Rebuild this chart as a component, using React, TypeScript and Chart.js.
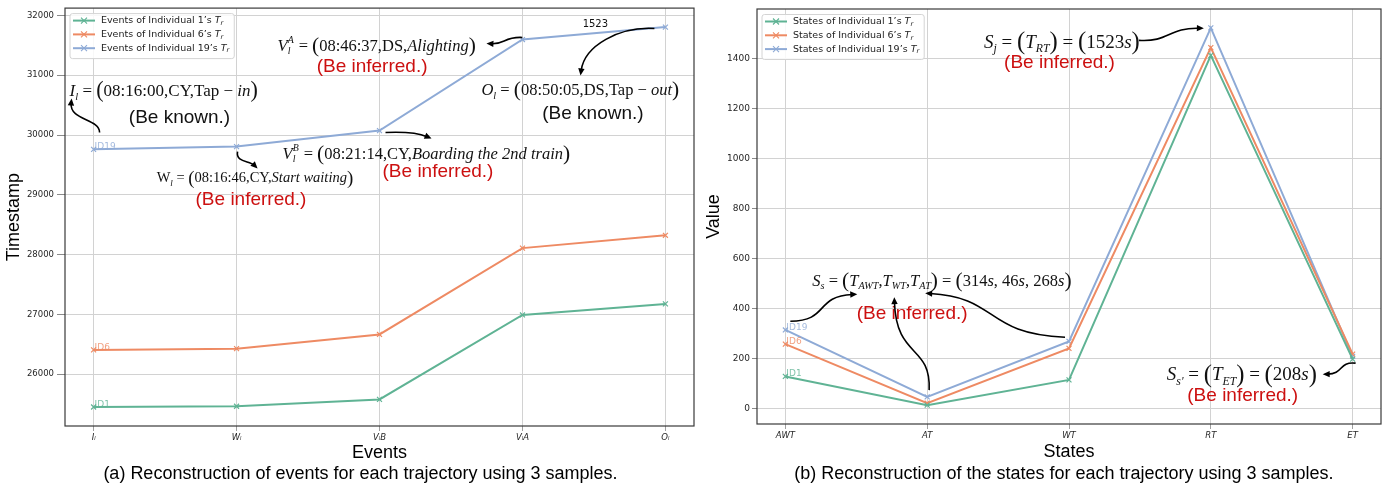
import React, { useEffect, useRef } from 'react';
import { Chart, registerables } from 'chart.js';
Chart.register(...registerables);

// ---------- data ----------
const eventLabels = ['Iₗ', 'Wₗ', 'VₗB', 'VₗA', 'Oₗ'];
const stateLabels = ['AWT', 'AT', 'WT', 'RT', 'ET'];
const seriesNames = ['1', '6', '19'];
const idLabels = ['ID1', 'ID6', 'ID19'];

const events1 = [25450, 25463, 25577, 26990, 27175];
const events6 = [26405, 26426, 26664, 28108, 28322];
const events19 = [29760, 29806, 30074, 31597, 31805];

const states1 = [128, 13, 114, 1413, 197];
const states6 = [257, 21, 240, 1444, 217];
const states19 = [314, 46, 268, 1523, 208];

const eventTicks = [26000, 27000, 28000, 29000, 30000, 31000, 32000];
const stateTicks = [0, 200, 400, 600, 800, 1000, 1200, 1400];

const colors = ['#5fb394', '#ee8a63', '#8eaad6'];

const SERIF = '"Liberation Serif", "Times New Roman", serif';
const SANS = '"Liberation Sans", Arial, sans-serif';
const DEJAVU = '"DejaVu Sans", sans-serif';
const RED = '#cc1010';

// ---------- annotation content (positions in data units) ----------
type Seg = { t?: string; it?: boolean; s?: number; dy?: number; sup?: string; sub?: string };
type Ann =
  | { kind: 'rich'; x: number; y: number; size: number; segs: Seg[] }
  | { kind: 'text'; x: number; y: number; size: number; text: string; color: string; font: string; align: CanvasTextAlign }
  | { kind: 'arrow'; pts: number[] };

const n = (t: string): Seg => ({ t });
const it = (t: string): Seg => ({ t, it: true });
const sb = (t: string): Seg => ({ t, it: true, s: 0.62, dy: 0.22 });
const lp: Seg = { t: '(', s: 1.3, dy: 0.08 };
const rp: Seg = { t: ')', s: 1.3, dy: 0.08 };

const eventAnns: Ann[] = [
  { kind: 'rich', x: -0.168, y: 30745, size: 17, segs: [it('I'), sb('l'), n(' = '), lp, n('08:16:00,CY,Tap − '), it('in'), rp] },
  { kind: 'text', x: 0.601, y: 30292, size: 19, text: '(Be known.)', color: '#111', font: SANS, align: 'center' },
  { kind: 'arrow', pts: [0.042, 30041, 0.042, 30276, -0.168, 30242, -0.154, 30611] },

  { kind: 'rich', x: 0.441, y: 29288, size: 14.5, segs: [n('W'), sb('l'), n(' = '), lp, n('08:16:46,CY,'), it('Start waiting'), rp] },
  { kind: 'text', x: 1.101, y: 28920, size: 19, text: '(Be inferred.)', color: RED, font: SANS, align: 'center' },
  { kind: 'arrow', pts: [1.007, 29723, 0.993, 29539, 1.091, 29573, 1.147, 29439] },

  { kind: 'rich', x: 1.322, y: 29690, size: 16.5, segs: [it('V'), { sup: 'B', sub: 'l' }, n(' = '), lp, n('08:21:14,CY,'), it('Boarding the 2nd train'), rp] },
  { kind: 'text', x: 2.409, y: 29389, size: 19, text: '(Be inferred.)', color: RED, font: SANS, align: 'center' },
  { kind: 'arrow', pts: [2.042, 30041, 2.21, 30058, 2.28, 30025, 2.364, 29941] },

  { kind: 'rich', x: 1.287, y: 31498, size: 16.5, segs: [it('V'), { sup: 'A', sub: 'l' }, n(' = '), lp, n('08:46:37,DS,'), it('Alighting'), rp] },
  { kind: 'text', x: 1.948, y: 31146, size: 19, text: '(Be inferred.)', color: RED, font: SANS, align: 'center' },
  { kind: 'arrow', pts: [2.999, 31632, 2.874, 31648, 2.874, 31515, 2.748, 31531] },

  { kind: 'text', x: 3.51, y: 31849, size: 10, text: '1523', color: '#111', font: DEJAVU, align: 'center' },

  { kind: 'rich', x: 2.713, y: 30761, size: 16.5, segs: [it('O'), sb('l'), n(' = '), lp, n('08:50:05,DS,Tap − '), it('out'), rp] },
  { kind: 'text', x: 3.493, y: 30359, size: 19, text: '(Be known.)', color: '#111', font: SANS, align: 'center' },
  { kind: 'arrow', pts: [3.923, 31782, 3.678, 31816, 3.434, 31498, 3.406, 30996] },
];

const stateAnns: Ann[] = [
  { kind: 'rich', x: 1.401, y: 1469, size: 19, segs: [it('S'), sb('j'), n(' = '), lp, it('T'), sb('RT'), rp, n(' = '), lp, n('1523'), it('s'), rp] },
  { kind: 'text', x: 1.933, y: 1385, size: 19, text: '(Be inferred.)', color: RED, font: SANS, align: 'center' },
  { kind: 'arrow', pts: [2.493, 1473, 2.704, 1465, 2.704, 1525, 2.951, 1521] },

  { kind: 'rich', x: 0.19, y: 513, size: 16.5, segs: [it('S'), sb('s'), n(' = '), lp, it('T'), sb('AWT'), n(','), it('T'), sb('WT'), n(','), it('T'), sb('AT'), rp, n(' = '), lp, n('314'), it('s'), n(', 46'), it('s'), n(', 268'), it('s'), rp] },
  { kind: 'text', x: 0.894, y: 377, size: 19, text: '(Be inferred.)', color: RED, font: SANS, align: 'center' },
  { kind: 'arrow', pts: [0.035, 349, 0.31, 349, 0.204, 449, 0.507, 457] },
  { kind: 'arrow', pts: [1.014, 73, 1.028, 257, 0.782, 197, 0.768, 445] },
  { kind: 'arrow', pts: [1.972, 285, 1.401, 297, 1.507, 445, 0.986, 461] },

  { kind: 'rich', x: 2.69, y: 137, size: 19, segs: [it('S'), sb("s'"), n(' = '), lp, it('T'), sb('ET'), rp, n(' = '), lp, n('208'), it('s'), rp] },
  { kind: 'text', x: 3.225, y: 49, size: 19, text: '(Be inferred.)', color: RED, font: SANS, align: 'center' },
  { kind: 'arrow', pts: [4.021, 181, 3.901, 189, 3.937, 137, 3.789, 137] },
];

// ---------- drawing helpers ----------
function drawRich(ctx: CanvasRenderingContext2D, segs: Seg[], x: number, yc: number, size: number) {
  const base = yc + size * 0.33;
  let cx = x;
  ctx.textBaseline = 'alphabetic';
  ctx.textAlign = 'left';
  ctx.fillStyle = '#111';
  for (const g of segs) {
    if (g.sup !== undefined || g.sub !== undefined) {
      const ss = size * 0.6;
      ctx.font = `italic ${ss}px ${SERIF}`;
      let w = 0;
      if (g.sup) { ctx.fillText(g.sup, cx, base - size * 0.48); w = Math.max(w, ctx.measureText(g.sup).width); }
      if (g.sub) { ctx.fillText(g.sub, cx, base + size * 0.2); w = Math.max(w, ctx.measureText(g.sub).width); }
      cx += w + size * 0.05;
      continue;
    }
    const fs = size * (g.s ?? 1);
    ctx.font = `${g.it ? 'italic ' : ''}${fs}px ${SERIF}`;
    ctx.fillText(g.t as string, cx, base + (g.dy ?? 0) * size);
    cx += ctx.measureText(g.t as string).width;
  }
}

function drawArrow(ctx: CanvasRenderingContext2D, p: number[]) {
  const [x0, y0, x1, y1, x2, y2, x3, y3] = p;
  const ang = Math.atan2(y3 - y2, x3 - x2);
  const L = 7, W = 3.2;
  const c = Math.cos(ang), s = Math.sin(ang);
  ctx.strokeStyle = '#000';
  ctx.lineWidth = 1.6;
  ctx.beginPath();
  ctx.moveTo(x0, y0);
  ctx.bezierCurveTo(x1, y1, x2, y2, x3 - c * L * 0.7, y3 - s * L * 0.7);
  ctx.stroke();
  ctx.fillStyle = '#000';
  ctx.beginPath();
  ctx.moveTo(x3, y3);
  ctx.lineTo(x3 - c * L + s * W, y3 - s * L - c * W);
  ctx.lineTo(x3 - c * L - s * W, y3 - s * L + c * W);
  ctx.closePath();
  ctx.fill();
}

function drawCross(ctx: CanvasRenderingContext2D, x: number, y: number, r: number, color: string) {
  ctx.strokeStyle = color;
  ctx.lineWidth = 1.1;
  ctx.beginPath();
  ctx.moveTo(x - r, y - r); ctx.lineTo(x + r, y + r);
  ctx.moveTo(x - r, y + r); ctx.lineTo(x + r, y - r);
  ctx.stroke();
}

function drawLegend(ctx: CanvasRenderingContext2D, area: any, prefix: string) {
  const x0 = area.left + 5, y0 = area.top + 5.5;
  const fs = 9.5;
  ctx.font = `${fs}px ${DEJAVU}`;
  const texts = seriesNames.map((s) => `${prefix} of Individual ${s}’s `);
  const widths = texts.map((t) => ctx.measureText(t).width);
  ctx.font = `italic ${fs}px ${DEJAVU}`;
  const tw = ctx.measureText('T').width;
  ctx.font = `italic ${fs * 0.7}px ${DEJAVU}`;
  const rw = ctx.measureText('r').width;
  const w = 31 + Math.max(...widths) + tw + rw + 5;
  const h = 45;
  ctx.save();
  ctx.fillStyle = 'rgba(255,255,255,0.85)';
  ctx.strokeStyle = '#d4d4d4';
  ctx.lineWidth = 1;
  ctx.beginPath();
  const r = 2.5;
  ctx.moveTo(x0 + r, y0);
  ctx.lineTo(x0 + w - r, y0); ctx.quadraticCurveTo(x0 + w, y0, x0 + w, y0 + r);
  ctx.lineTo(x0 + w, y0 + h - r); ctx.quadraticCurveTo(x0 + w, y0 + h, x0 + w - r, y0 + h);
  ctx.lineTo(x0 + r, y0 + h); ctx.quadraticCurveTo(x0, y0 + h, x0, y0 + h - r);
  ctx.lineTo(x0, y0 + r); ctx.quadraticCurveTo(x0, y0, x0 + r, y0);
  ctx.closePath();
  ctx.fill();
  ctx.stroke();
  texts.forEach((t, i) => {
    const yy = y0 + 7 + i * 13.8;
    ctx.strokeStyle = colors[i];
    ctx.lineWidth = 2;
    ctx.beginPath();
    ctx.moveTo(x0 + 3, yy); ctx.lineTo(x0 + 25, yy);
    ctx.stroke();
    drawCross(ctx, x0 + 14, yy, 3, colors[i]);
    ctx.fillStyle = '#222';
    ctx.textBaseline = 'middle';
    ctx.textAlign = 'left';
    ctx.font = `${fs}px ${DEJAVU}`;
    let cx = x0 + 31;
    ctx.fillText(t, cx, yy);
    cx += widths[i];
    ctx.font = `italic ${fs}px ${DEJAVU}`;
    ctx.fillText('T', cx, yy);
    cx += tw;
    ctx.font = `italic ${fs * 0.7}px ${DEJAVU}`;
    ctx.fillText('r', cx, yy + 2.5);
  });
  ctx.restore();
}

function overlayPlugin(anns: Ann[], prefix: string) {
  return {
    id: 'overlay',
    afterDatasetsDraw(chart: any) {
      const ctx: CanvasRenderingContext2D = chart.ctx;
      const xs = chart.scales.x, ys = chart.scales.y;
      ctx.save();
      // ID labels at the first point of each series
      chart.data.datasets.forEach((_: any, i: number) => {
        const el = chart.getDatasetMeta(i).data[0];
        ctx.globalAlpha = 0.8;
        ctx.fillStyle = colors[i];
        ctx.font = `9px ${DEJAVU}`;
        ctx.textAlign = 'left';
        ctx.textBaseline = 'alphabetic';
        ctx.fillText(idLabels[i], el.x + 1, el.y);
        ctx.globalAlpha = 1;
      });
      for (const a of anns) {
        if (a.kind === 'rich') {
          drawRich(ctx, a.segs, xs.getPixelForValue(a.x), ys.getPixelForValue(a.y), a.size);
        } else if (a.kind === 'text') {
          ctx.font = `${a.size}px ${a.font}`;
          ctx.fillStyle = a.color;
          ctx.textAlign = a.align;
          ctx.textBaseline = 'middle';
          ctx.fillText(a.text, xs.getPixelForValue(a.x), ys.getPixelForValue(a.y));
        } else {
          const p: number[] = [];
          for (let k = 0; k < 8; k += 2) {
            p.push(xs.getPixelForValue(a.pts[k]), ys.getPixelForValue(a.pts[k + 1]));
          }
          drawArrow(ctx, p);
        }
      }
      ctx.restore();
    },
    afterDraw(chart: any) {
      const ctx: CanvasRenderingContext2D = chart.ctx;
      const a = chart.chartArea;
      ctx.save();
      ctx.strokeStyle = '#3a3a3a';
      ctx.lineWidth = 1.2;
      ctx.strokeRect(a.left, a.top, a.right - a.left, a.bottom - a.top);
      drawLegend(ctx, a, prefix);
      ctx.restore();
    },
  };
}

function yRange(series: number[][]) {
  const all = series.flat();
  const mn = Math.min(...all), mx = Math.max(...all);
  const p = (mx - mn) * 0.05;
  return [mn - p, mx + p];
}

function makeConfig(o: {
  labels: string[]; series: number[][]; ticks: number[]; prefix: string; anns: Ann[];
  xTitle: string; yTitle: string; padding: any; yWidth: number; yTickLen: number; yTickPad: number;
  yTickSize: number; yTitlePad: number; xTitlePad: number; xTickSize: number;
}) {
  const [ymin, ymax] = yRange(o.series);
  return {
    type: 'line',
    data: {
      datasets: o.series.map((s, i) => ({
        label: `${o.prefix} of Individual ${seriesNames[i]}'s Tr`,
        data: s.map((v, k) => ({ x: k, y: v })),
        borderColor: colors[i],
        backgroundColor: colors[i],
        borderWidth: 2,
        pointStyle: 'crossRot',
        pointRadius: 3.5,
        pointBorderWidth: 1.2,
        pointBorderColor: colors[i],
        tension: 0,
        fill: false,
      })),
    },
    options: {
      animation: false,
      responsive: false,
      devicePixelRatio: 1,
      layout: { padding: o.padding },
      plugins: { legend: { display: false }, tooltip: { enabled: false } },
      scales: {
        x: {
          type: 'linear',
          min: -0.2,
          max: o.labels.length - 1 + 0.2,
          afterBuildTicks: (s: any) => { s.ticks = o.labels.map((_, i) => ({ value: i })); },
          afterFit: (s: any) => { s.height = 39; },
          ticks: {
            callback: (_v: any, i: number) => o.labels[i],
            font: { family: DEJAVU, size: o.xTickSize, style: 'italic' },
            color: '#262626',
            padding: 2,
            maxRotation: 0,
            autoSkip: false,
          },
          grid: { color: '#d2d2d2', lineWidth: 1, tickLength: 5, tickColor: '#a0a0a0' },
          border: { display: false },
          title: { display: true, text: o.xTitle, color: '#000', font: { family: SANS, size: 18 }, padding: { top: 0, bottom: o.xTitlePad } },
        },
        y: {
          type: 'linear',
          min: ymin,
          max: ymax,
          afterBuildTicks: (s: any) => { s.ticks = o.ticks.map((v) => ({ value: v })); },
          afterFit: (s: any) => { s.width = o.yWidth; },
          ticks: {
            callback: (v: any) => String(v),
            font: { family: DEJAVU, size: o.yTickSize },
            color: '#262626',
            padding: o.yTickPad,
          },
          grid: { color: '#d2d2d2', lineWidth: 1, tickLength: o.yTickLen, tickColor: '#8a8a8a' },
          border: { display: false },
          title: { display: true, text: o.yTitle, color: '#000', font: { family: SANS, size: 18 }, padding: { top: o.yTitlePad, bottom: 0 } },
        },
      },
    },
    plugins: [overlayPlugin(o.anns, o.prefix)],
  } as any;
}

export default function App() {
  const leftRef = useRef<HTMLCanvasElement>(null);
  const rightRef = useRef<HTMLCanvasElement>(null);

  useEffect(() => {
    document.body.style.margin = '0';
    const c1 = new Chart(leftRef.current as HTMLCanvasElement, makeConfig({
      labels: eventLabels, series: [events1, events6, events19], ticks: eventTicks, prefix: 'Events',
      anns: eventAnns, xTitle: 'Events', yTitle: 'Timestamp',
      padding: { left: 0, right: 6, top: 8, bottom: 24 }, yWidth: 65, yTickLen: 8, yTickPad: 3,
      yTickSize: 8.5, yTitlePad: 3, xTitlePad: 1, xTickSize: 8.5,
    }));
    const c2 = new Chart(rightRef.current as HTMLCanvasElement, makeConfig({
      labels: stateLabels, series: [states1, states6, states19], ticks: stateTicks, prefix: 'States',
      anns: stateAnns, xTitle: 'States', yTitle: 'Value',
      padding: { left: 0, right: 8, top: 9, bottom: 26 }, yWidth: 57, yTickLen: 5, yTickPad: 2,
      yTickSize: 9, yTitlePad: 3.6, xTitlePad: 0, xTickSize: 8.5,
    }));
    return () => { c1.destroy(); c2.destroy(); };
  }, []);

  const cap: React.CSSProperties = {
    position: 'absolute', top: 462, fontFamily: SANS, fontSize: 18, lineHeight: '22px',
    textAlign: 'center', color: '#000', whiteSpace: 'nowrap',
  };

  return (
    <div style={{ position: 'relative', width: 1389, height: 489, overflow: 'hidden', background: '#fff' }}>
      <canvas ref={leftRef} width={700} height={489} style={{ position: 'absolute', left: 0, top: 0 }} />
      <canvas ref={rightRef} width={689} height={489} style={{ position: 'absolute', left: 700, top: 0 }} />
      <div style={{ ...cap, left: 0, width: 721 }}>(a) Reconstruction of events for each trajectory using 3 samples.</div>
      <div style={{ ...cap, left: 664, width: 800 }}>(b) Reconstruction of the states for each trajectory using 3 samples.</div>
    </div>
  );
}
